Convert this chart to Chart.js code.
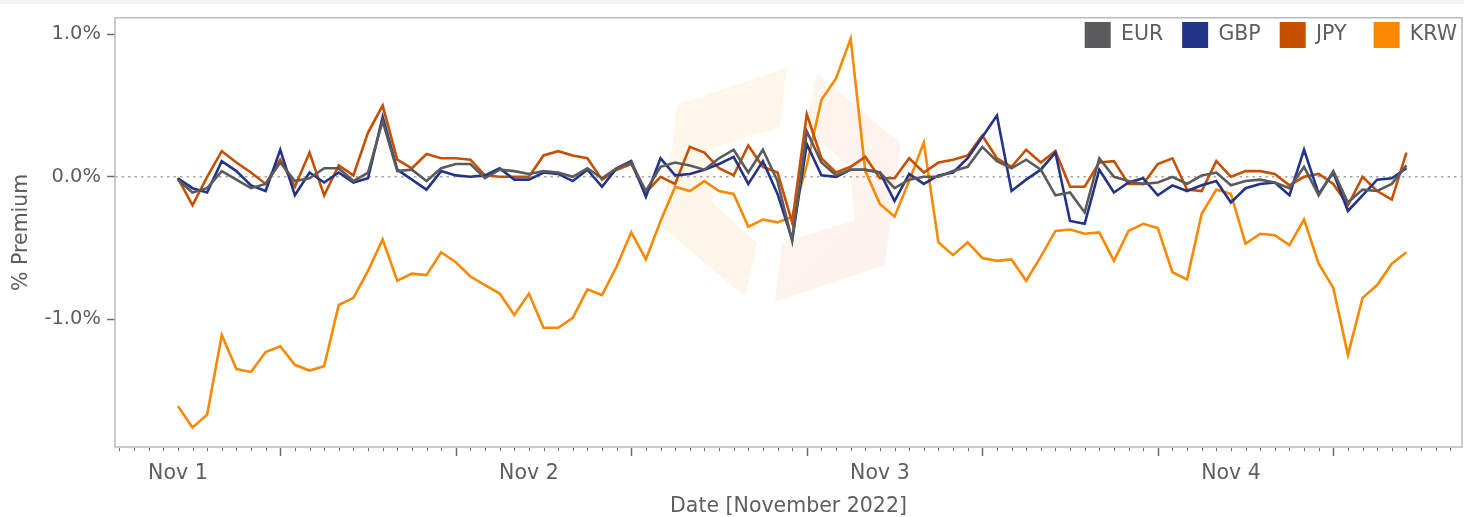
<!DOCTYPE html>
<html>
<head>
<meta charset="utf-8">
<script src="https://cdn.jsdelivr.net/npm/chart.js@4.4.0/dist/chart.umd.min.js"></script>
<style>
  html, body { margin: 0; padding: 0; background: #fff; }
</style>
</head>
<body>
<canvas id="premiumChart" width="1464" height="517"></canvas>
<script>
// hourly premium vs USD, Nov 1 00:00 .. Nov 4 12:00 (index = hours since Nov 1)
const currencies = ['EUR', 'GBP', 'JPY', 'KRW'];
const colors = ['#5b5b5d', '#223488', '#c65000', '#f88900'];

const eur = [-0.02, -0.11, -0.08, 0.04, -0.02, -0.08, -0.05, 0.10, -0.03, -0.01, 0.06, 0.06, -0.03, 0.03, 0.39, 0.04, 0.05, -0.03, 0.06, 0.09, 0.09, -0.01, 0.05, 0.04,
  0.02, 0.04, 0.03, 0.00, 0.06, -0.01, 0.06, 0.10, -0.10, 0.07, 0.10, 0.08, 0.05, 0.13, 0.19, 0.03, 0.19, -0.03, -0.45, 0.32, 0.10, 0.01, 0.05, 0.05,
  0.03, -0.08, -0.02, 0.00, 0.00, 0.04, 0.07, 0.21, 0.11, 0.06, 0.12, 0.05, -0.13, -0.11, -0.25, 0.13, 0.00, -0.03, -0.05, -0.04, 0.00, -0.05, 0.01, 0.03,
  -0.06, -0.03, -0.02, -0.04, -0.08, 0.07, -0.13, 0.04, -0.18, -0.09, -0.10, -0.05, 0.08];
const gbp = [-0.01, -0.08, -0.11, 0.11, 0.04, -0.06, -0.10, 0.19, -0.13, 0.03, -0.04, 0.03, -0.04, -0.01, 0.42, 0.05, -0.02, -0.09, 0.04, 0.01, 0.00, 0.01, 0.06, -0.02,
  -0.02, 0.03, 0.02, -0.03, 0.05, -0.07, 0.06, 0.11, -0.14, 0.13, 0.01, 0.02, 0.05, 0.09, 0.14, -0.05, 0.11, -0.12, -0.44, 0.23, 0.01, 0.00, 0.05, 0.05,
  0.03, -0.17, 0.02, -0.05, 0.01, 0.03, 0.13, 0.28, 0.43, -0.10, -0.02, 0.05, 0.17, -0.31, -0.33, 0.05, -0.11, -0.04, -0.01, -0.13, -0.06, -0.10, -0.06, -0.03,
  -0.18, -0.08, -0.05, -0.04, -0.13, 0.19, -0.12, 0.03, -0.24, -0.13, -0.02, -0.01, 0.06];
const jpy = [-0.01, -0.20, 0.00, 0.18, 0.10, 0.03, -0.05, 0.12, -0.07, 0.17, -0.13, 0.08, 0.01, 0.31, 0.50, 0.12, 0.06, 0.16, 0.13, 0.13, 0.12, 0.01, 0.00, 0.00,
  0.00, 0.15, 0.18, 0.15, 0.13, -0.02, 0.05, 0.09, -0.11, 0.00, -0.05, 0.21, 0.17, 0.06, 0.01, 0.22, 0.07, 0.03, -0.32, 0.44, 0.13, 0.03, 0.07, 0.14,
  -0.01, -0.01, 0.13, 0.03, 0.10, 0.12, 0.15, 0.29, 0.13, 0.07, 0.19, 0.10, 0.18, -0.07, -0.07, 0.10, 0.11, -0.05, -0.05, 0.09, 0.13, -0.09, -0.10, 0.11,
  0.00, 0.04, 0.04, 0.02, -0.06, 0.00, 0.02, -0.05, -0.20, 0.00, -0.10, -0.16, 0.17];
const krw = [-1.61, -1.76, -1.67, -1.11, -1.35, -1.37, -1.23, -1.19, -1.32, -1.36, -1.33, -0.90, -0.85, -0.66, -0.44, -0.73, -0.68, -0.69, -0.53, -0.60, -0.70, -0.76, -0.82, -0.97,
  -0.82, -1.06, -1.06, -0.99, -0.79, -0.83, -0.63, -0.39, -0.58, -0.31, -0.07, -0.10, -0.03, -0.10, -0.12, -0.35, -0.30, -0.32, -0.28, 0.08, 0.54, 0.69, 0.97, 0.04,
  -0.19, -0.28, -0.03, 0.24, -0.46, -0.55, -0.46, -0.57, -0.59, -0.58, -0.73, -0.56, -0.38, -0.37, -0.40, -0.39, -0.59, -0.38, -0.33, -0.36, -0.67, -0.72, -0.26, -0.09,
  -0.12, -0.47, -0.40, -0.41, -0.48, -0.30, -0.61, -0.78, -1.25, -0.85, -0.76, -0.61, -0.53];

const dayTicks = [0, 24, 48, 72];
const dayLabels = ['Nov 1', 'Nov 2', 'Nov 3', 'Nov 4'];
const yTicks = [-1, 0, 1];

const textColor = '#5e5e5e';
const font = "'DejaVu Sans', sans-serif";
Chart.defaults.font.family = font;
Chart.defaults.color = textColor;

const series = [eur, gbp, jpy, krw];
const datasets = series.map((vals, i) => ({
  label: currencies[i],
  data: vals.map((v, h) => ({ x: h, y: v })),
  borderColor: colors[i],
  backgroundColor: colors[i],
  borderWidth: 2.6,
  pointRadius: 0,
  tension: 0
}));

// frame, faint logo, zero line, hourly tick marks
const decor = {
  id: 'decor',
  beforeDraw(chart) {
    const ctx = chart.ctx;
    ctx.save();
    ctx.fillStyle = '#fff';
    ctx.fillRect(0, 0, chart.width, chart.height);
    ctx.fillStyle = '#f3f3f3';
    ctx.fillRect(0, 0, chart.width, 4);
    ctx.restore();
  },
  afterLayout(chart) {
    // legend sits inside the plot, top right (it only reserves 1px in the layout)
    const lg = chart.legend;
    lg.left += 14; lg.right += 14;
    lg.top = 3; lg.height = 60; lg.bottom = 63;
  },
  beforeDatasetsDraw(chart) {
    const ctx = chart.ctx;
    const a = chart.chartArea;
    ctx.save();
    // watermark
    const pieceA = [[677, 105], [787, 68], [780, 127], [707, 150], [713, 203], [757, 243], [745, 297], [662, 227]];
    const pieces = [pieceA, pieceA.map(p => [1562 - p[0], 370 - p[1]])];
    pieces.forEach((pts, k) => {
      const g = ctx.createLinearGradient(660, 70, 900, 300);
      g.addColorStop(0, k ? 'rgba(248,170,60,0.09)' : 'rgba(250,180,40,0.10)');
      g.addColorStop(1, k ? 'rgba(240,100,50,0.09)' : 'rgba(245,140,60,0.10)');
      ctx.fillStyle = g;
      ctx.beginPath();
      pts.forEach((p, j) => j ? ctx.lineTo(p[0], p[1]) : ctx.moveTo(p[0], p[1]));
      ctx.closePath();
      ctx.fill();
    });
    // zero line
    const y0 = chart.scales.y.getPixelForValue(0);
    ctx.strokeStyle = '#a8a8a8';
    ctx.lineWidth = 1.5;
    ctx.setLineDash([2.5, 4]);
    ctx.beginPath();
    ctx.moveTo(a.left, y0);
    ctx.lineTo(a.right, y0);
    ctx.stroke();
    ctx.setLineDash([]);
    // frame
    ctx.strokeStyle = '#b9b9b9';
    ctx.lineWidth = 1.5;
    ctx.strokeRect(a.left, a.top, a.right - a.left, a.bottom - a.top);
    ctx.restore();
  },
  afterDraw(chart) {
    const ctx = chart.ctx;
    const xs = chart.scales.x;
    const a = chart.chartArea;
    ctx.save();
    ctx.strokeStyle = '#6a6a6a';
    for (let h = Math.ceil(xs.min); h <= xs.max; h++) {
      const px = Math.round(xs.getPixelForValue(h)) + 0.5;
      const major = ((h % 12) + 12) % 12 === 7;
      ctx.lineWidth = major ? 1.5 : 1;
      ctx.beginPath();
      ctx.moveTo(px, a.bottom + 1);
      ctx.lineTo(px, a.bottom + (major ? 9 : 4));
      ctx.stroke();
    }
    ctx.restore();
  }
};

new Chart(document.getElementById('premiumChart'), {
  type: 'line',
  data: { datasets },
  options: {
    responsive: false,
    animation: false,
    devicePixelRatio: 1,
    layout: { padding: { top: 9, right: 2, left: 0, bottom: 0 } },
    plugins: {
      tooltip: { enabled: false },
      legend: {
        position: 'top',
        align: 'end',
        maxHeight: 1,
        labels: {
          boxWidth: 26,
          boxHeight: 26,
          padding: 19,
          color: textColor,
          font: { family: font, size: 20.5 },
          generateLabels(chart) {
            const items = Chart.defaults.plugins.legend.labels.generateLabels(chart);
            items.forEach(it => {
              it.lineWidth = 0;
              // short label gets a little extra room, like the original legend
              if (it.text === 'JPY') it.text = 'JPY\u2009\u2009';
            });
            return items;
          }
        }
      }
    },
    scales: {
      x: {
        type: 'linear',
        min: -4.3,
        max: 87.8,
        afterFit(s) { s.height = 70; },
        afterBuildTicks(s) { s.ticks = dayTicks.map(v => ({ value: v })); },
        grid: { display: false, drawTicks: false },
        border: { display: false },
        ticks: {
          autoSkip: false,
          maxRotation: 0,
          padding: 14,
          color: textColor,
          font: { size: 20.5 },
          callback: v => dayLabels[dayTicks.indexOf(v)]
        },
        title: {
          display: true,
          text: 'Date [November 2022]',
          color: textColor,
          font: { size: 20.5, lineHeight: 1 },
          padding: { top: 0, bottom: 0 }
        }
      },
      y: {
        min: -1.897,
        max: 1.117,
        afterFit(s) { s.width = 115; },
        afterBuildTicks(s) { s.ticks = yTicks.map(v => ({ value: v })); },
        grid: { drawOnChartArea: false, drawTicks: true, tickLength: 8, tickColor: '#6a6a6a', tickWidth: 1.5 },
        border: { display: false },
        ticks: {
          padding: 6,
          color: textColor,
          font: { size: 19.5 },
          callback: v => v.toFixed(1) + '%'
        },
        title: {
          display: true,
          text: '% Premium',
          color: textColor,
          font: { size: 20.5 },
          padding: { top: 9, bottom: 0 }
        }
      }
    }
  },
  plugins: [decor]
});
</script>
</body>
</html>
